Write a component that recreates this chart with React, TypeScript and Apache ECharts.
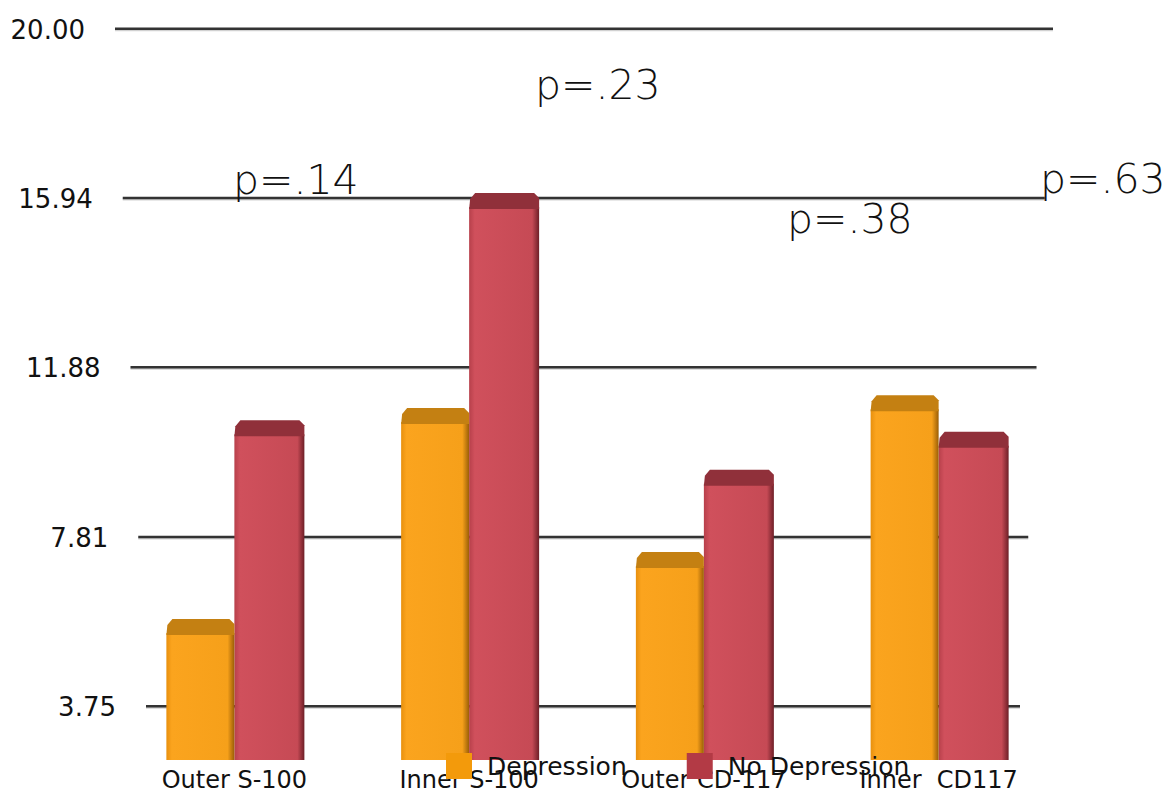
import React, { useEffect, useRef } from "react";
import * as echarts from "echarts";

const categories = ["Outer S-100", "Inner S-100", "Outer CD-117", "Inner  CD117"];
const depression = [5.84, 10.9, 7.45, 11.21];
const noDepression = [10.61, 16.06, 9.42, 10.33];
const tickValues = [3.75, 7.81, 11.88, 15.94, 20.0];
const pLabels = ["p=.14", "p=.23", "p=.38", "p=.63"];

// layout (pixel positions of the p-value annotations)
const pLayout = [
  { left: 233, y: 183 },
  { left: 535, y: 88 },
  { left: 787, y: 222 },
  { left: 1040, y: 182 },
];

const Y_MIN = 2.46;
const Y_MAX = 20.16;
const FONT = '"DejaVu Sans", Verdana, sans-serif';

const palette = [
  { front: ["#E8900E", "#FBA41E", "#F6A01A"], cap: "#C48012", edge: "#9A5E06", legend: "#F39A0B" },
  { front: ["#B7404B", "#D0505C", "#C64A55"], cap: "#90303A", edge: "#6E1F27", legend: "#B33A45" },
];

function makeBarRenderer(seriesIdx: number) {
  return (params: any, api: any) => {
    const i = api.value(0);
    const v = api.value(1);
    const top = api.coord([i, v]);
    const base = api.coord([i, Y_MIN]);
    const cx = top[0];
    const w = seriesIdx === 0 ? 68 : 70;
    const x0 = seriesIdx === 0 ? cx - 68 : cx;
    const x1 = x0 + w;
    const yTop = top[1];
    const yBase = base[1];
    const capH = 16;
    const p = palette[seriesIdx];
    return {
      type: "group",
      children: [
        {
          type: "rect",
          shape: { x: x0, y: yTop + capH - 2, width: w, height: yBase - yTop - capH + 2 },
          style: {
            fill: new echarts.graphic.LinearGradient(0, 0, 1, 0, [
              { offset: 0, color: p.front[0] },
              { offset: 0.08, color: p.front[1] },
              { offset: 0.9, color: p.front[2] },
              { offset: 1, color: p.edge },
            ]),
          },
        },
        {
          type: "polygon",
          shape: {
            points: [
              [x0, yTop + capH],
              [x0 + 1, yTop + 6],
              [x0 + 6, yTop],
              [x1 - 5, yTop],
              [x1, yTop + 5],
              [x1, yTop + capH],
            ],
          },
          style: { fill: p.cap },
        },
      ],
    };
  };
}

function renderGridline(params: any, api: any) {
  const v = api.value(1);
  const cs = params.coordSys;
  const y = api.coord([0, v])[1];
  const frac = (20 - v) / 16.25;
  const xa = cs.x - 2 + frac * 31;
  const xb = cs.x + cs.width - 3 - frac * 33;
  return {
    type: "group",
    children: [
      {
        type: "line",
        shape: { x1: xa, y1: y + 1.5, x2: xb, y2: y + 1.5 },
        style: { stroke: "rgba(0,0,0,0.18)", lineWidth: 2 },
      },
      {
        type: "line",
        shape: { x1: xa, y1: y, x2: xb, y2: y },
        style: { stroke: "#333333", lineWidth: 2.5 },
      },
      {
        type: "text",
        style: {
          text: v.toFixed(2),
          x: xa - 30,
          y: y + 1,
          align: "right",
          verticalAlign: "middle",
          fontSize: 26,
          fontFamily: FONT,
          fill: "#111111",
        },
      },
    ],
  };
}

export default function App() {
  const ref = useRef<HTMLDivElement>(null);
  useEffect(() => {
    document.body.style.margin = "0";
    const chart = echarts.init(ref.current as HTMLDivElement, null, { renderer: "svg" });
    chart.setOption({
      animation: false,
      backgroundColor: "#ffffff",
      grid: { left: 117, right: 113, top: 22, bottom: 36, containLabel: false },
      xAxis: {
        type: "category",
        data: categories,
        axisLine: { show: false },
        axisTick: { show: false },
        axisLabel: { fontSize: 24, fontFamily: FONT, color: "#111111", margin: 8, interval: 0 },
      },
      yAxis: {
        type: "value",
        min: Y_MIN,
        max: Y_MAX,
        show: false,
        splitLine: { show: false },
      },
      legend: {
        left: 441,
        top: 748,
        itemWidth: 26,
        itemHeight: 26,
        itemGap: 60,
        icon: "rect",
        textStyle: { fontSize: 25, fontFamily: FONT, color: "#111111", padding: [0, 0, 0, 10] },
        data: [
          { name: "Depression", itemStyle: { color: palette[0].legend } },
          { name: "No Depression", itemStyle: { color: palette[1].legend } },
        ],
      },
      series: [
        {
          type: "custom",
          name: "grid",
          z: 1,
          silent: true,
          renderItem: renderGridline,
          encode: { x: 0, y: 1 },
          data: tickValues.map((v) => [0, v]),
        },
        {
          type: "custom",
          name: "Depression",
          z: 3,
          itemStyle: { color: palette[0].legend },
          renderItem: makeBarRenderer(0),
          encode: { x: 0, y: 1 },
          data: depression.map((v, i) => [i, v]),
        },
        {
          type: "custom",
          name: "No Depression",
          z: 2,
          itemStyle: { color: palette[1].legend },
          renderItem: makeBarRenderer(1),
          encode: { x: 0, y: 1 },
          data: noDepression.map((v, i) => [i, v]),
        },
      ],
      graphic: pLabels.map((t, i) => ({
        type: "text",
        left: pLayout[i].left,
        top: pLayout[i].y - 24,
        z: 10,
        style: {
          text: t,
          font: `200 41px ${FONT}`,
          fill: "#111111",
        },
      })),
    });
    return () => chart.dispose();
  }, []);
  return <div ref={ref} style={{ width: 1169, height: 796 }} />;
}
